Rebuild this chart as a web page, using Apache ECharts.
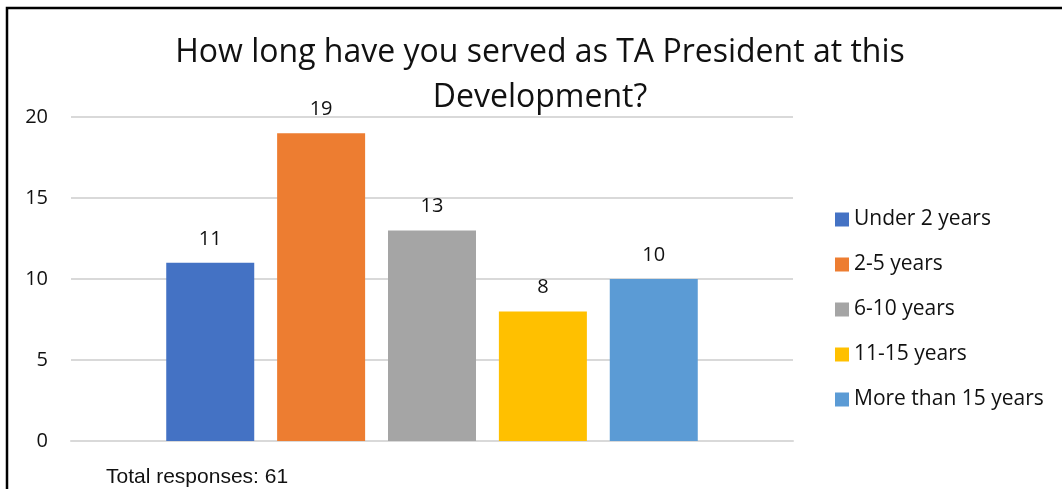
<!DOCTYPE html>
<html>
<head>
<meta charset="utf-8">
<script src="https://cdn.jsdelivr.net/npm/echarts@6/dist/echarts.min.js"></script>
<style>
  html, body { margin: 0; padding: 0; background: #fff; }
  #chart { width: 1062px; height: 489px; }
</style>
</head>
<body>
<div id="chart"></div>
<script>
// Survey answers: how long each TA President has served
const groups = ['Under 2 years', '2-5 years', '6-10 years', '11-15 years', 'More than 15 years'];
const counts = [11, 19, 13, 8, 10];
const colors = ['#4472C4', '#ED7D31', '#A5A5A5', '#FFC000', '#5B9BD5'];
const yTicks = { min: 0, max: 20, interval: 5 };
const titleText = 'How long have you served as TA President at this\nDevelopment?';
const footnote = 'Total responses: 61';

const chart = echarts.init(document.getElementById('chart'));

const series = groups.map((name, i) => ({
  name: name,
  type: 'bar',
  data: [counts[i]],
  barWidth: 88,
  barGap: '26%',
  itemStyle: { color: colors[i] },
  label: {
    show: true,
    position: 'top',
    distance: 14,
    color: '#111',
    fontFamily: 'Open Sans',
    fontSize: 20
  }
}));

chart.setOption({
  animation: false,
  backgroundColor: '#fff',
  title: {
    text: titleText,
    left: 535,
    top: 25,
    textAlign: 'center',
    textStyle: {
      fontFamily: 'Open Sans',
      fontSize: 32,
      fontWeight: 'normal',
      color: '#111',
      lineHeight: 45
    }
  },
  legend: {
    orient: 'vertical',
    left: 835,
    top: 209,
    padding: 0,
    itemWidth: 14,
    itemHeight: 14,
    itemGap: 24,
    icon: 'rect',
    textStyle: {
      fontFamily: 'Open Sans',
      fontSize: 21,
      lineHeight: 21,
      color: '#111',
      padding: [0, 0, 0, 0]
    },
    data: groups
  },
  grid: { left: 71, right: 269, top: 117, bottom: 48, containLabel: false },
  xAxis: {
    type: 'category',
    data: [''],
    axisLine: { show: true, lineStyle: { color: '#d9d9d9', width: 2 } },
    axisTick: { show: false },
    axisLabel: { show: false }
  },
  yAxis: {
    type: 'value',
    min: yTicks.min,
    max: yTicks.max,
    interval: yTicks.interval,
    axisLine: { show: false },
    axisTick: { show: false },
    axisLabel: {
      margin: 23,
      color: '#111',
      fontFamily: 'Open Sans',
      fontSize: 20
    },
    splitLine: { lineStyle: { color: '#d9d9d9', width: 2 } }
  },
  graphic: [
    {
      type: 'rect',
      shape: { x: 7, y: 8, width: 1200, height: 700 },
      style: { fill: 'none', stroke: '#000', lineWidth: 2.5 },
      silent: true
    },
    {
      type: 'text',
      left: 106,
      top: 467,
      style: {
        text: footnote,
        fontFamily: 'Liberation Sans',
        fontSize: 21,
        fill: '#111'
      }
    }
  ],
  series: series
});
</script>
</body>
</html>
